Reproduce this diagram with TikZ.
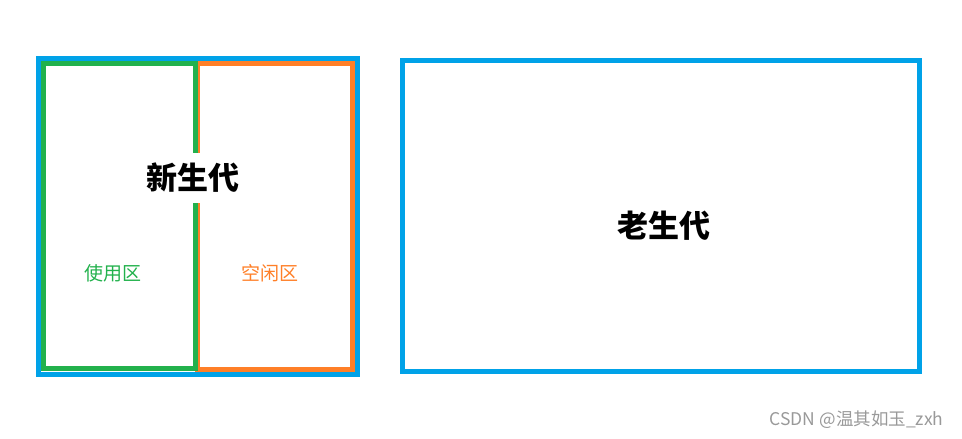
\documentclass[tikz,border=0pt]{standalone}
\usepackage{fontspec}
\newfontfamily\cjk{Noto Sans CJK SC}
\definecolor{genblue}{HTML}{00A2E8}
\definecolor{usegreen}{HTML}{22B14C}
\definecolor{freeorange}{HTML}{FF7F27}
\tikzset{
  area/.style={line width=5pt},
  genlabel/.style={font=\cjk\bfseries\fontsize{31}{31}\selectfont},
  partlabel/.style={font=\cjk\fontsize{19}{19}\selectfont}
}

\begin{document}
\begin{tikzpicture}[x=1pt,y=-1pt]
      \useasboundingbox (0,0) rectangle (962,439);
      \draw[area,genblue] (38.5,58.5) rectangle (357.5,374.2);
      \draw[area,freeorange] (197,63.5) rectangle (352.5,369.2);
      \draw[area,usegreen] (43.5,63.5) rectangle (195.5,368.7);
      \draw[area,genblue] (402.5,60.5) rectangle (919.5,371.5);
      \node[genlabel,fill=white,inner xsep=2pt,inner ysep=10pt,text depth=4pt] (young) at (192.5,178) {新生代};
      \node[genlabel] (old) at (664,226) {老生代};
      \node[partlabel,text=usegreen] (used) at (113,273) {使用区};
      \node[partlabel,text=freeorange] (free) at (270,273) {空闲区};
      \node[font=\cjk\fontsize{17.5}{17.5}\selectfont,text=black!40,anchor=east] (mark) at (947,420) {CSDN @温其如玉\_zxh};
    \end{tikzpicture}
\end{document}
